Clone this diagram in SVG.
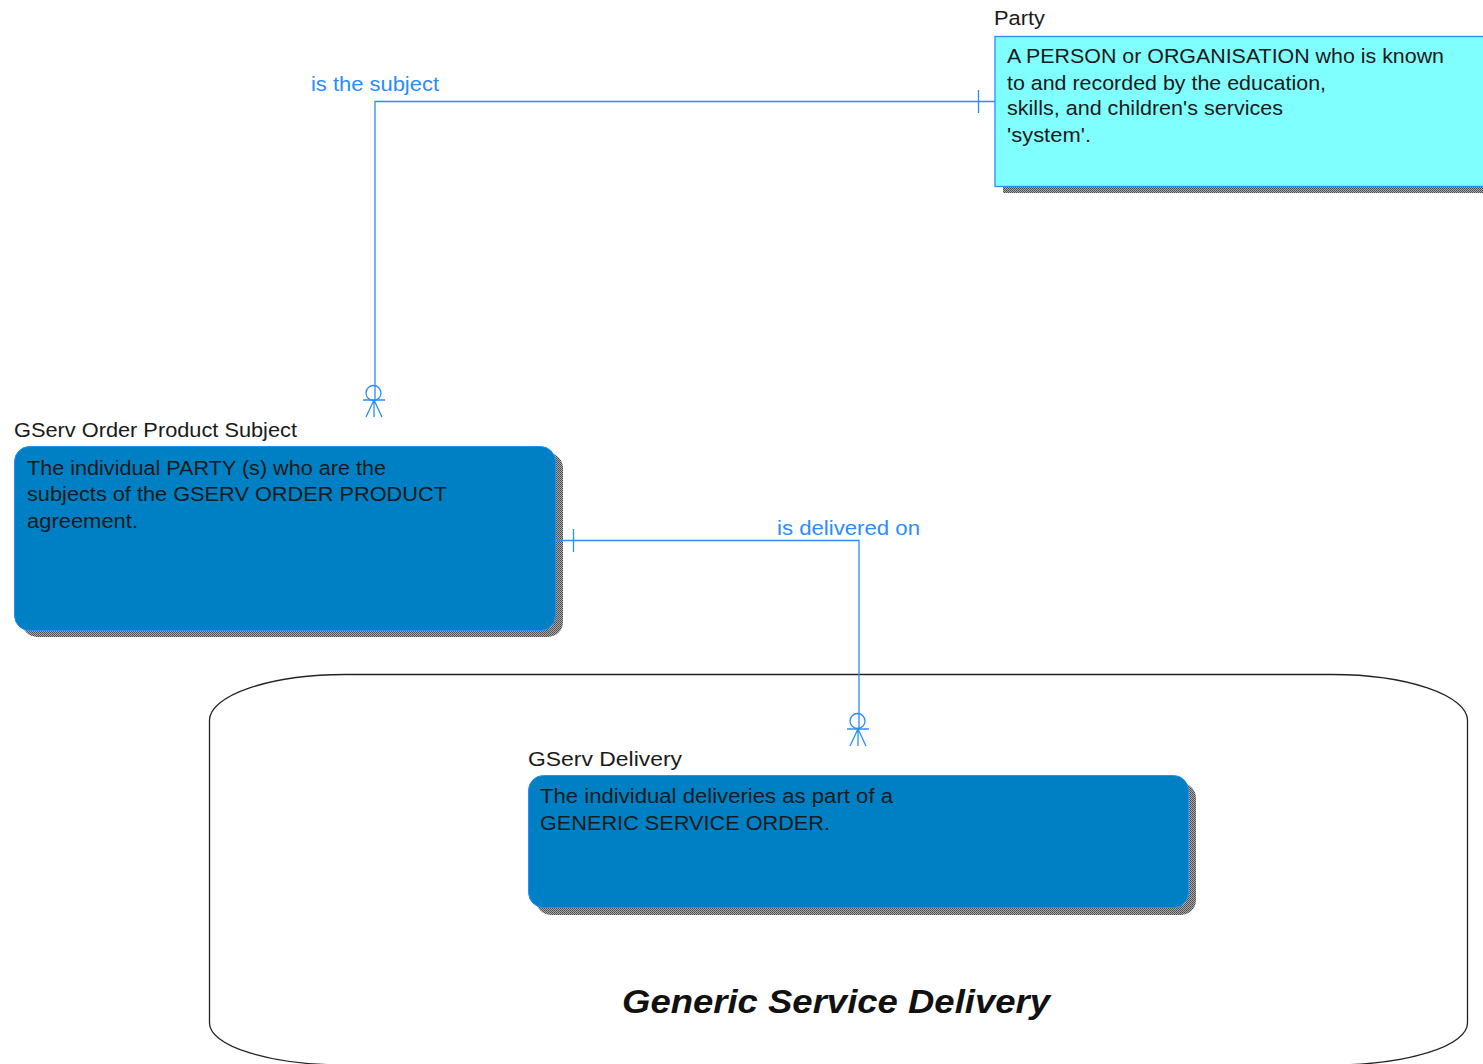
<svg xmlns="http://www.w3.org/2000/svg" width="1483" height="1064" viewBox="0 0 1483 1064">
<defs>
<pattern id="dither" width="2" height="2" patternUnits="userSpaceOnUse">
<rect width="2" height="2" fill="#a8a8a8"/>
<rect width="1" height="1" fill="#4a4a4a"/>
<rect x="1" y="1" width="1" height="1" fill="#5a5a5a"/>
</pattern>
</defs>
<style>
text{font-family:"Liberation Sans",Arial,sans-serif}
.t{font-size:20.5px;fill:#1a1a1a}
.l{font-size:20.5px;fill:#2a8cff}
.c{fill:none;stroke:#2a8cff;stroke-width:1.3}
.s{fill:url(#dither)}
.e{fill:#0080c4;stroke:#2a8cff;stroke-width:1}
</style>
<rect width="1483" height="1064" fill="#fff"/>
<g id="subject-area">
<path d="M209.500 720A136 46 0 0 1 345 674.500H1332A136 46 0 0 1 1467.500 720V1023A136 42 0 0 1 1332 1065H345A136 42 0 0 1 209.500 1023Z" fill="#fff" stroke="#222" stroke-width="1.300"/>
<text x="622" y="1013" font-size="33" font-style="italic" font-weight="700" fill="#111" textLength="428" lengthAdjust="spacingAndGlyphs">Generic Service Delivery</text>
</g>
<g id="node-party">
<rect class="s" x="1003" y="44" width="480" height="149"/>
<rect x="995" y="36.500" width="489" height="150" fill="#80ffff" stroke="#2a8cff" stroke-width="1.300"/>
<text class="t" x="994" y="25" textLength="51" lengthAdjust="spacingAndGlyphs">Party</text>
<text class="t" x="1007" y="63" textLength="437" lengthAdjust="spacingAndGlyphs">A PERSON or ORGANISATION who is known</text>
<text class="t" x="1007" y="90" textLength="319" lengthAdjust="spacingAndGlyphs">to and recorded by the education,</text>
<text class="t" x="1007" y="115" textLength="276" lengthAdjust="spacingAndGlyphs">skills, and children's services</text>
<text class="t" x="1007" y="142" textLength="84" lengthAdjust="spacingAndGlyphs">'system'.</text>
</g>
<g id="node-subject">
<rect class="s" x="22" y="453" width="541" height="184" rx="15"/>
<rect class="e" x="14.500" y="446.500" width="541" height="184" rx="15"/>
<text class="t" x="14" y="437" textLength="283" lengthAdjust="spacingAndGlyphs">GServ Order Product Subject</text>
<text class="t" x="27" y="475" textLength="359" lengthAdjust="spacingAndGlyphs">The individual PARTY (s) who are the</text>
<text class="t" x="27" y="501" textLength="420" lengthAdjust="spacingAndGlyphs">subjects of the GSERV ORDER PRODUCT</text>
<text class="t" x="27" y="528" textLength="111" lengthAdjust="spacingAndGlyphs">agreement.</text>
</g>
<g id="node-delivery">
<rect class="s" x="536" y="783" width="660" height="132" rx="15"/>
<rect class="e" x="528.500" y="775.500" width="660" height="132" rx="15"/>
<text class="t" x="528" y="766" textLength="154" lengthAdjust="spacingAndGlyphs">GServ Delivery</text>
<text class="t" x="540" y="803" textLength="353" lengthAdjust="spacingAndGlyphs">The individual deliveries as part of a</text>
<text class="t" x="540" y="830" textLength="290" lengthAdjust="spacingAndGlyphs">GENERIC SERVICE ORDER.</text>
</g>
<g id="connectors">
<path class="c" d="M995 101.500H375V401"/>
<path class="c" d="M978.500 90V113"/>
<circle class="c" cx="373.500" cy="393" r="7.500"/>
<path class="c" d="M363 400H385M374 400L366 417M374 400L382 417M374 400V417"/>
<text class="l" x="311" y="91" textLength="128" lengthAdjust="spacingAndGlyphs">is the subject</text>
<path class="c" d="M556 540.500H859V730"/>
<path class="c" d="M573.500 529V552"/>
<circle class="c" cx="857.500" cy="721" r="7.500"/>
<path class="c" d="M847 729H869M858 729L850 746M858 729L866 746M858 729V746"/>
<text class="l" x="777" y="535" textLength="143" lengthAdjust="spacingAndGlyphs">is delivered on</text>
</g>
</svg>
